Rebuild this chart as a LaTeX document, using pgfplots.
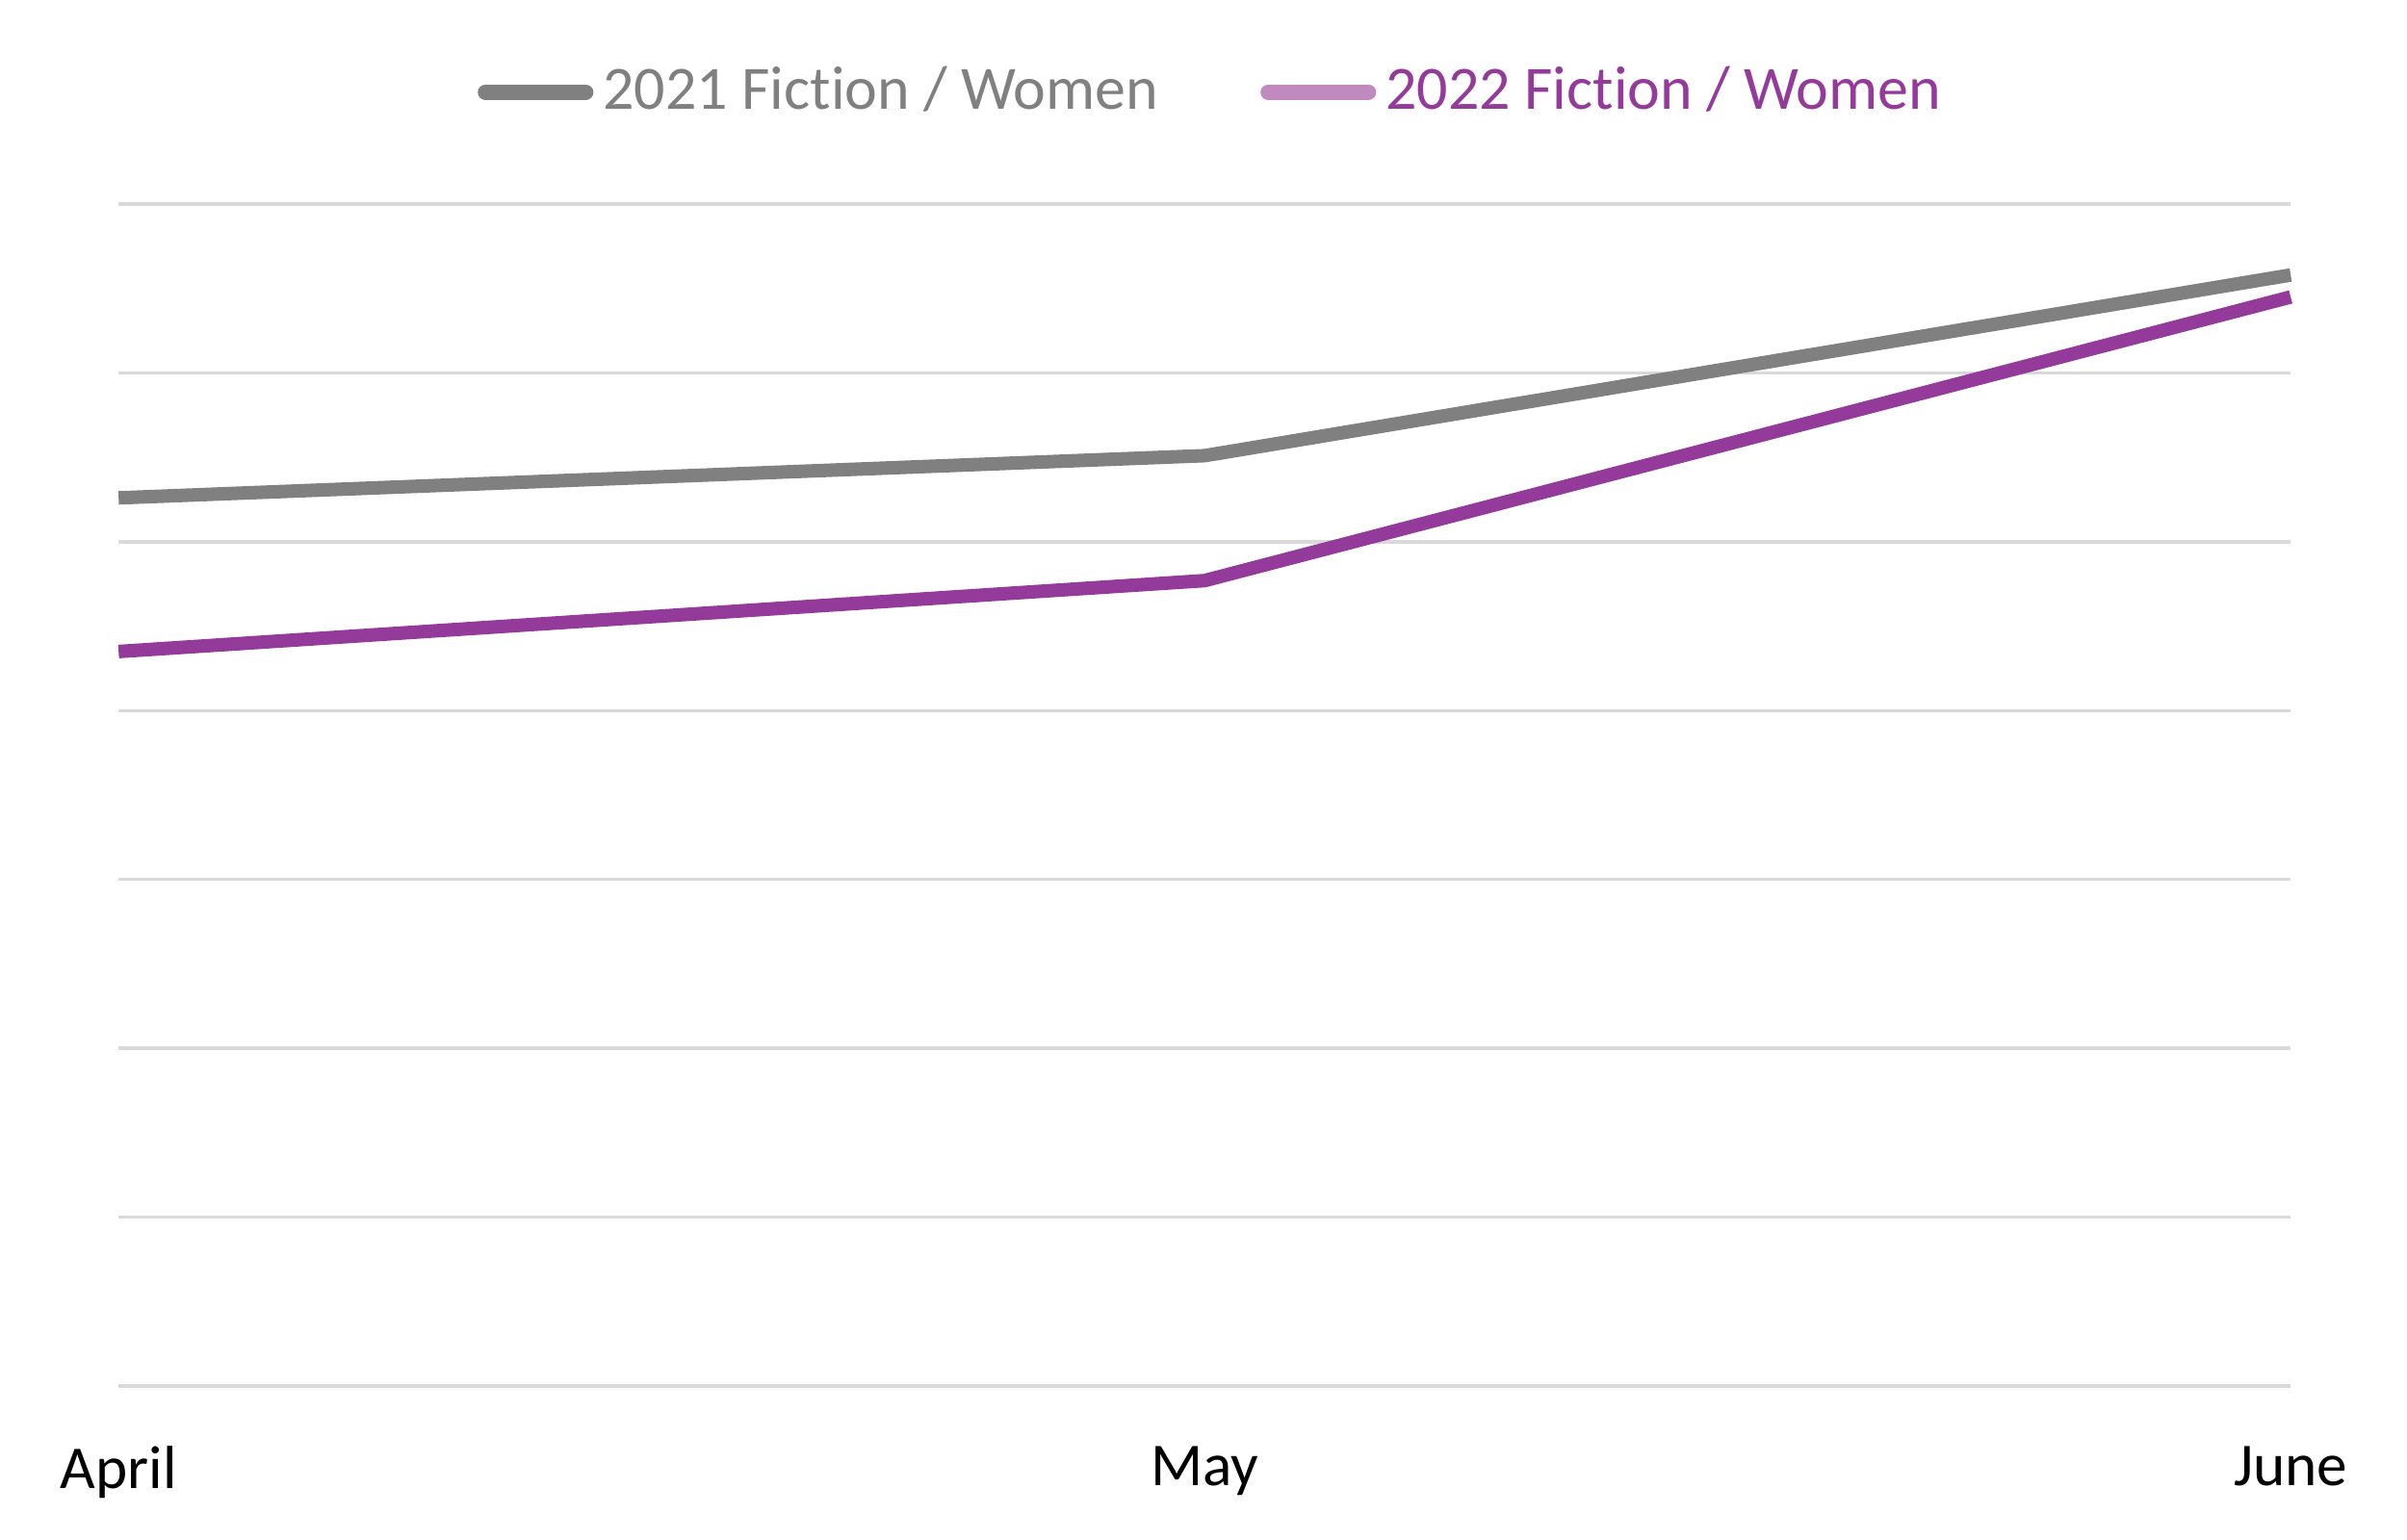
\documentclass[border=0pt]{standalone}
\usepackage{pgfplots}
\pgfplotsset{compat=1.18}
\usepackage{fontspec}
\setmainfont{Carlito}[Ligatures={NoCommon,NoContextual}]
\definecolor{gridgray}{HTML}{D9D9D9}
\definecolor{lgray}{HTML}{808080}
\definecolor{lpurple}{HTML}{943A9A}
\definecolor{lpurplelight}{HTML}{C08AC0}
\begin{document}
\fontsize{9}{11}\selectfont
\begin{tikzpicture}
\path[use as bounding box] (-0.616cm,-0.80cm) rectangle (11.884cm,7.20cm);
\begin{axis}[
    scale only axis,
    width=11.28cm, height=6.14cm,
    at={(0,0)}, anchor=south west,
    xmin=0, xmax=2, ymin=0, ymax=7,
    xtick={0,1,2},
    xticklabels={April,May,June},
    ytick={0,1,...,7},
    yticklabels={},
    ymajorgrids,
    grid style={gridgray, line width=0.5pt},
    axis line style={draw=none},
    tick style={draw=none},
    xticklabel style={font=\fontsize{9}{11}\selectfont, text=black, yshift=-0.2cm},
    clip=false,
    legend columns=2,
    legend style={draw=none, fill=none, at={(0.5,1)}, anchor=south, yshift=0.32cm, xshift=0.05cm,
        font=\fontsize{9.1}{11}\selectfont,
        /tikz/every even column/.append style={column sep=0.48cm},
        nodes={inner sep=0.05cm}},
]
\addplot[lgray, line width=2pt, line join=round,
    legend image code/.code={\draw[lgray, line width=2.3pt, line cap=round] (0cm,0cm) -- (0.52cm,0cm);}]
    coordinates {(0,5.26) (1,5.51) (2,6.58)};
\addlegendentry{\textcolor{lgray}{2021 Fiction / Women}}
\addplot[lpurple, line width=2pt, line join=round,
    legend image code/.code={\draw[lpurplelight, line width=2.3pt, line cap=round] (0cm,0cm) -- (0.52cm,0cm);}]
    coordinates {(0,4.35) (1,4.77) (2,6.45)};
\addlegendentry{\textcolor{lpurple}{2022 Fiction / Women}}
\end{axis}
\end{tikzpicture}
\end{document}
